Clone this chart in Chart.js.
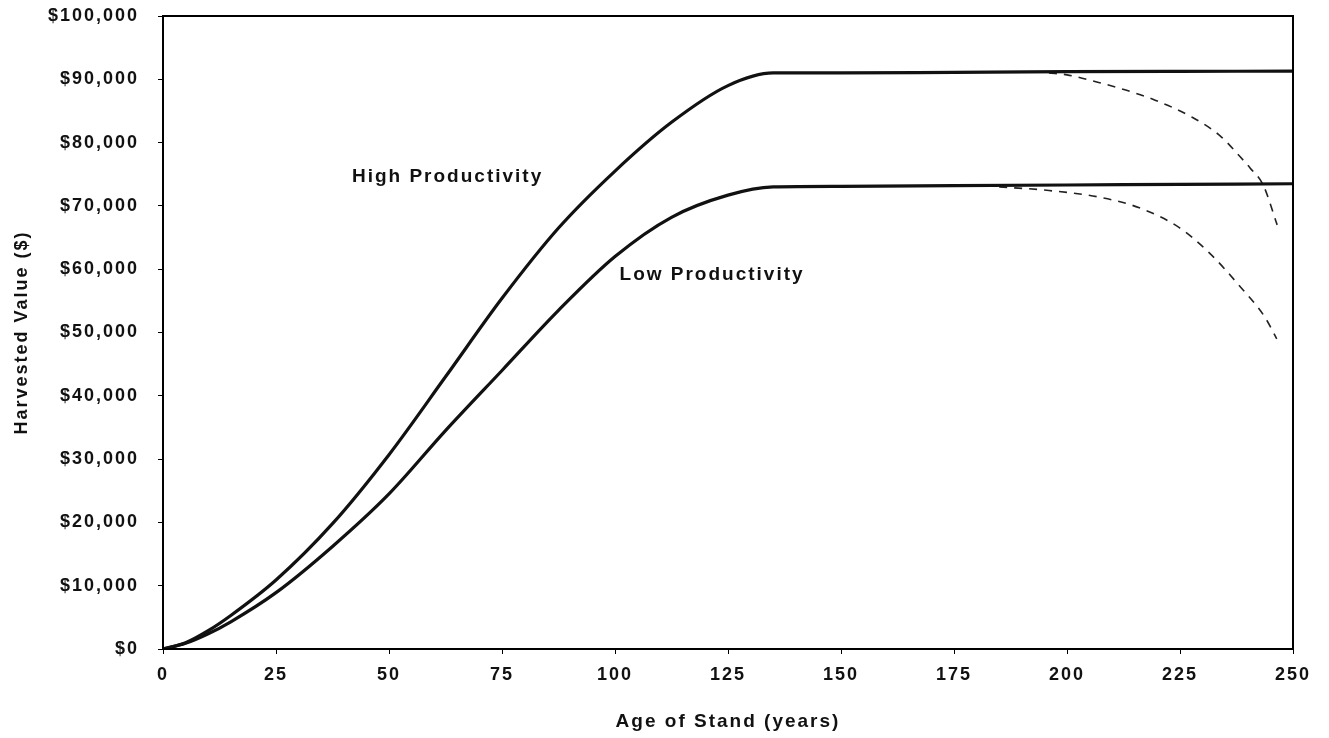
<!DOCTYPE html>
<html>
<head>
<meta charset="utf-8">
<script src="https://cdn.jsdelivr.net/npm/chart.js@4/dist/chart.umd.min.js"></script>
<style>
  html, body { margin: 0; padding: 0; background: #fff; }
  #wrap { width: 1329px; height: 738px; position: relative; }
</style>
</head>
<body>
<div id="wrap"><canvas id="standChart"></canvas></div>
<script>
// ages (years) and harvested values ($)
const highAges = [0, 5, 10, 15, 25, 37.5, 50, 62.5, 75, 87.5, 100, 112.5, 125, 135, 150, 175, 200, 225, 250];
const highValues = [0, 1000, 2900, 5300, 10900, 19800, 30700, 43000, 55400, 66500, 75500, 83200, 89000, 91000, 91000, 91100, 91200, 91250, 91300];

const lowAges = [0, 5, 10, 15, 25, 37.5, 50, 62.5, 75, 87.5, 100, 112.5, 125, 135, 150, 175, 200, 225, 250];
const lowValues = [0, 900, 2400, 4300, 8900, 16200, 24500, 34500, 44000, 53500, 62000, 68200, 71700, 73000, 73100, 73200, 73300, 73400, 73500];

// declining value of over-mature stands (dashed)
const highDeclineAges = [196, 200, 207, 213, 219.5, 227.7, 234, 238, 240.5, 243.4, 246.5];
const highDeclineValues = [91000, 90700, 89500, 88300, 86700, 84000, 81000, 78000, 76000, 73300, 67000];

const lowDeclineAges = [185, 195, 207, 216, 225, 231.6, 238, 243.8, 246.4];
const lowDeclineValues = [73000, 72500, 71400, 69700, 66500, 62500, 57500, 52400, 49000];

const xTicks = [0, 25, 50, 75, 100, 125, 150, 175, 200, 225, 250];

const toPoints = (xs, ys) => xs.map((x, i) => ({ x: x, y: ys[i] }));

const fontFamily = "'Liberation Sans', Arial, sans-serif";
const tickFont = { family: fontFamily, size: 18, weight: 'bold' };

// the scanned lettering is widely spaced
const spacing = {
    id: 'spacing',
    afterInit(chart) { chart.ctx.letterSpacing = '2px'; },
    beforeUpdate(chart) { chart.ctx.letterSpacing = '2px'; },
    beforeDraw(chart) { chart.ctx.letterSpacing = '2px'; }
};

// box around the plot + curve labels
const frameAndLabels = {
    id: 'frameAndLabels',
    afterDraw(chart) {
        const { ctx, chartArea, scales } = chart;
        ctx.save();
        ctx.strokeStyle = '#000';
        ctx.lineWidth = 2;
        ctx.strokeRect(chartArea.left, chartArea.top, chartArea.right - chartArea.left, chartArea.bottom - chartArea.top);
        ctx.fillStyle = '#111';
        ctx.font = `bold 19px ${fontFamily}`;
        ctx.textBaseline = 'middle';
        ctx.textAlign = 'left';
        ctx.fillText('High Productivity', scales.x.getPixelForValue(41.8), scales.y.getPixelForValue(74600));
        ctx.fillText('Low Productivity', scales.x.getPixelForValue(101), scales.y.getPixelForValue(59100));
        ctx.restore();
    }
};

new Chart(document.getElementById('standChart'), {
    type: 'scatter',
    data: {
        datasets: [
            { data: toPoints(highAges, highValues), showLine: true, borderColor: '#111', borderWidth: 3.2, pointRadius: 0, cubicInterpolationMode: 'monotone' },
            { data: toPoints(lowAges, lowValues), showLine: true, borderColor: '#111', borderWidth: 3.2, pointRadius: 0, cubicInterpolationMode: 'monotone' },
            { data: toPoints(highDeclineAges, highDeclineValues), showLine: true, borderColor: '#222', borderWidth: 1.6, borderDash: [8, 7], pointRadius: 0, cubicInterpolationMode: 'monotone' },
            { data: toPoints(lowDeclineAges, lowDeclineValues), showLine: true, borderColor: '#222', borderWidth: 1.6, borderDash: [8, 7], pointRadius: 0, cubicInterpolationMode: 'monotone' }
        ]
    },
    options: {
        responsive: true,
        maintainAspectRatio: false,
        animation: false,
        layout: { padding: { top: 16, right: 36, left: 0, bottom: 0 } },
        plugins: { legend: { display: false }, tooltip: { enabled: false } },
        scales: {
            x: {
                type: 'linear',
                min: 0, max: 250,
                afterBuildTicks: axis => { axis.ticks = xTicks.map(v => ({ value: v })); },
                afterFit: axis => { axis.height = 89; },
                grid: { drawOnChartArea: false, drawTicks: true, tickLength: 5, color: '#000' },
                border: { display: true, color: '#000', width: 2 },
                ticks: { color: '#111', font: tickFont, padding: 10, maxRotation: 0 },
                title: { display: true, text: 'Age of Stand (years)', color: '#111', font: { family: fontFamily, size: 19, weight: 'bold' }, padding: { top: 4, bottom: 5 } }
            },
            y: {
                min: 0, max: 100000,
                afterFit: axis => { axis.width = 163; axis.paddingTop = 0; axis.paddingBottom = 0; },
                grid: { drawOnChartArea: false, drawTicks: true, tickLength: 5, color: '#000' },
                border: { display: true, color: '#000', width: 2 },
                ticks: {
                    stepSize: 10000,
                    color: '#111',
                    font: tickFont,
                    padding: 19,
                    callback: v => '$' + v.toLocaleString('en-US')
                },
                title: { display: true, text: 'Harvested Value ($)', color: '#111', font: tickFont, padding: { top: 11, bottom: 4 } }
            }
        }
    },
    plugins: [spacing, frameAndLabels]
});
</script>
</body>
</html>
